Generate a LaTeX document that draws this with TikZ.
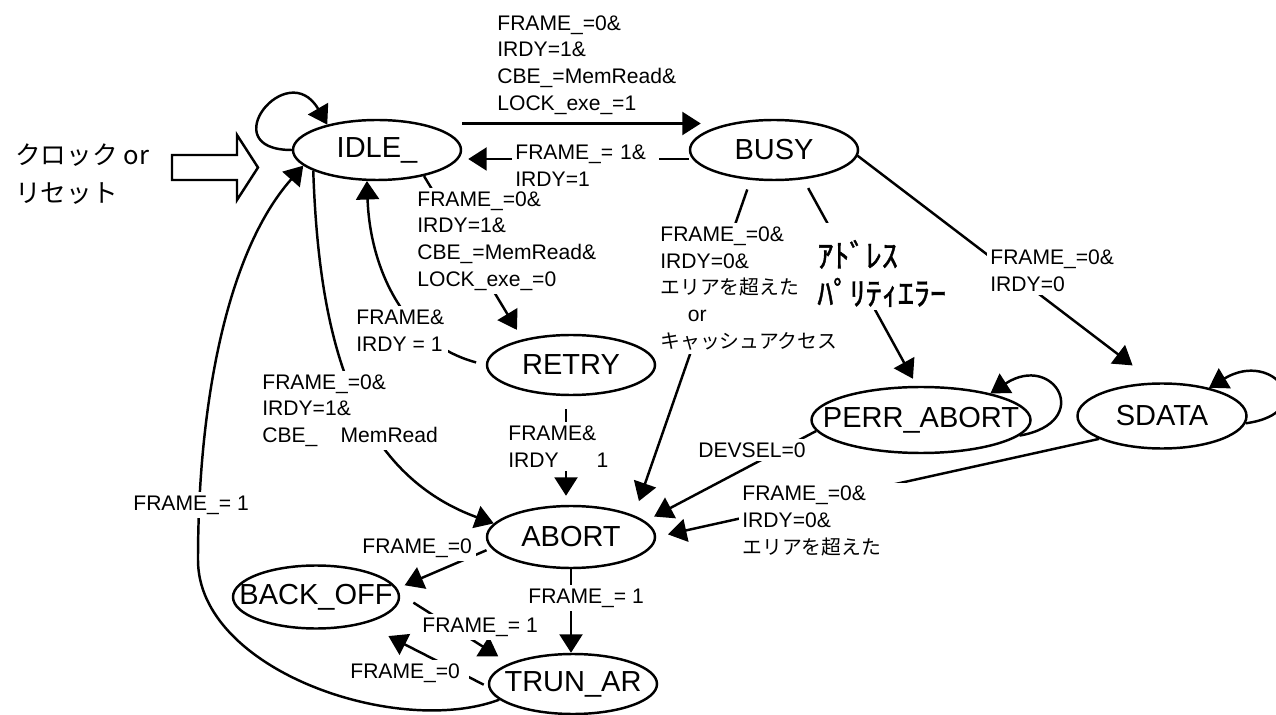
\documentclass[tikz,border=0pt]{standalone}
\usepackage{fontspec}
\setmainfont{Liberation Sans}
\newfontfamily\jpfont[Scale=0.94]{Noto Sans CJK JP}
\newfontfamily\jpheavy[Scale=0.94,FakeBold=1.2]{Noto Sans CJK JP}
\usetikzlibrary{arrows.meta,shapes.geometric}
\newcommand{\jp}[1]{{\jpfont#1}}

\begin{document}
\begin{tikzpicture}[
  fsmstate/.style={
    draw, ellipse, line width=1.4pt, minimum width=3.36cm,
    minimum height=1.2cm, inner xsep=-1cm, inner ysep=0pt,
    font=\fontsize{16.5}{19}\selectfont
  },
  cond/.style={
    fill=white, anchor=west, align=left, inner sep=2pt,
    font=\fontsize{12}{15.2}\selectfont
  },
  flow/.style={-{Triangle[length=3.7mm,width=4.6mm]}, line width=1.4pt},
]

\useasboundingbox (0,0) rectangle (25.52,-14.30);

% ---- states ------------------------------------------------------------
\node[fsmstate] (idle)    at (7.54, -3.00)  {IDLE\_};
\node[fsmstate] (busy)    at (15.48, -3.00) {BUSY};
\node[fsmstate] (retry)   at (11.42, -7.30) {RETRY};
\node[fsmstate, minimum width=4.38cm, minimum height=1.32cm]
                (perr)    at (18.42, -8.40) {PERR\_ABORT};
\node[fsmstate, minimum width=3.38cm, minimum height=1.3cm]
                (sdata)   at (23.24, -8.32) {SDATA};
\node[fsmstate, minimum height=1.24cm]
                (abort)   at (11.42, -10.74) {ABORT};
\node[fsmstate, minimum width=3.32cm, minimum height=1.26cm]
                (backoff) at (6.32, -11.94) {BACK\_OFF};
\node[fsmstate] (trunar)  at (11.46, -13.68) {TRUN\_AR};

% clock / reset input
\node[align=left, anchor=west, inner sep=0pt,
      font=\jpfont\fontsize{15.5}{21.5}\selectfont]
  (clk) at (0.30, -3.48) {クロック or\\リセット};
\draw[line width=1.4pt] (3.44,-3.10) -- (4.74,-3.10) -- (4.74,-2.70)
  -- (5.16,-3.35) -- (4.74,-4.00) -- (4.74,-3.60) -- (3.44,-3.60) -- cycle;

% ---- transitions out of IDLE_ / BUSY -----------------------------------
\draw[flow] (idle.west) to[out=180, in=120, looseness=4.7] (idle.153);
\draw[flow] ([yshift=5.3mm]idle.east) -- ([xshift=2.4mm, yshift=5.3mm]busy.west);
\draw[flow] ([yshift=-1.8mm]busy.west) -- ([xshift=1.2mm, yshift=-1.8mm]idle.east);
\draw[flow, shorten >=2.2mm] (idle.-29) -- (retry.152);
\draw[flow, shorten <=2mm] (retry.west) to[out=165, in=-88] (idle.-108);
\draw[flow] (idle.-162) to[out=-88, in=160] (abort.170);

\draw[flow, shorten <=2mm, shorten >=3mm] (busy.-128) -- (abort.19);
\draw[flow, shorten <=2mm, shorten >=1.6mm] (busy.-45) -- (perr.97);
\draw[flow, shorten >=5.6mm] (busy.-4) -- (sdata.102);

% self loops
\draw[flow] (perr.-9) to[out=10, in=33, looseness=3.8] (perr.21);
\draw[flow] (sdata.-5) to[out=8, in=31, looseness=3.8] (sdata.31);

% ---- into ABORT and below ----------------------------------------------
\draw[flow, shorten <=2.6mm, shorten >=1.8mm]
  ([xshift=-1mm]retry.south) -- ([xshift=-1mm]abort.north);
\draw[flow, shorten >=2mm] (perr.-174) -- (abort.12);
\draw[flow, shorten >=2.4mm] (sdata.-160) -- (abort.east);
\draw[flow, shorten <=1mm, shorten >=1.6mm] (abort.-172) -- (backoff.6);
\draw[flow] (abort.south) -- (abort.south |- trunar.north);
\draw[flow, shorten <=3.2mm, shorten >=2.6mm] (backoff.2) -- (trunar.162);
\draw[flow, shorten <=1mm, shorten >=5.4mm] (trunar.182) -- (backoff.-29);

% long way back from TRUN_AR to IDLE_
\draw[flow] (trunar.192) .. controls (7.94,-14.76) and (3.96,-13.40) .. (3.96,-11.20)
  .. controls (3.96,-8.20) and (4.50,-5.08) .. (idle.-168);

% ---- conditions (drawn last so the white boxes cut the lines) ----------
\node[cond] (lockset) at (9.87, -1.30)
  {FRAME\_=0\&\\IRDY=1\&\\CBE\_=MemRead\&\\LOCK\_exe\_=1};
\node[cond, text width=2.8cm] (busyrel) at (10.23, -3.31)
  {FRAME\_= 1\&\\IRDY=1};
\node[cond] (lockclr) at (8.27, -4.82)
  {FRAME\_=0\&\\IRDY=1\&\\CBE\_=MemRead\&\\LOCK\_exe\_=0};
\node[cond] (retryrel) at (7.05, -6.61) {FRAME\&\\IRDY = 1};
\node[cond] (notread) at (5.17, -8.21)
  {FRAME\_=0\&\\IRDY=1\&\\CBE\_\hspace{1.1em}MemRead};
\node[cond] (outarea) at (13.13, -5.77)
  {FRAME\_=0\&\\IRDY=0\&\\\jp{エリアを超えた}\\\hspace*{1.3em}or\\\jp{キャッシュアクセス}};
\node[cond, font=\jpheavy\fontsize{19.5}{21.5}\selectfont] (parity) at (16.27, -5.47)
  {ｱﾄﾞﾚｽ\\ﾊﾟﾘﾃｨｴﾗｰ};
\node[cond] (busydata) at (19.73, -5.42) {FRAME\_=0\&\\IRDY=0};
\node[cond] (devsel) at (13.89, -9.00) {DEVSEL=0};
\node[cond, text width=3.24cm] (dataout) at (14.77, -10.42)
  {FRAME\_=0\&\\IRDY=0\&\\\jp{エリアを超えた}};
\node[cond] (retryab) at (10.09, -8.93) {FRAME\&\\IRDY\hspace{1.8em}1};
\node[cond, text width=2.2cm] (abback) at (7.17, -10.96) {FRAME\_=0};
\node[cond] (abtrun) at (10.49, -11.96) {FRAME\_= 1};
\node[cond] (backtrun) at (8.37, -12.54) {FRAME\_= 1};
\node[cond, text width=2.3cm] (trunback) at (6.93, -13.46) {FRAME\_=0};
\node[cond] (trunidle) at (2.59, -10.10) {FRAME\_= 1};

\end{tikzpicture}
\end{document}
